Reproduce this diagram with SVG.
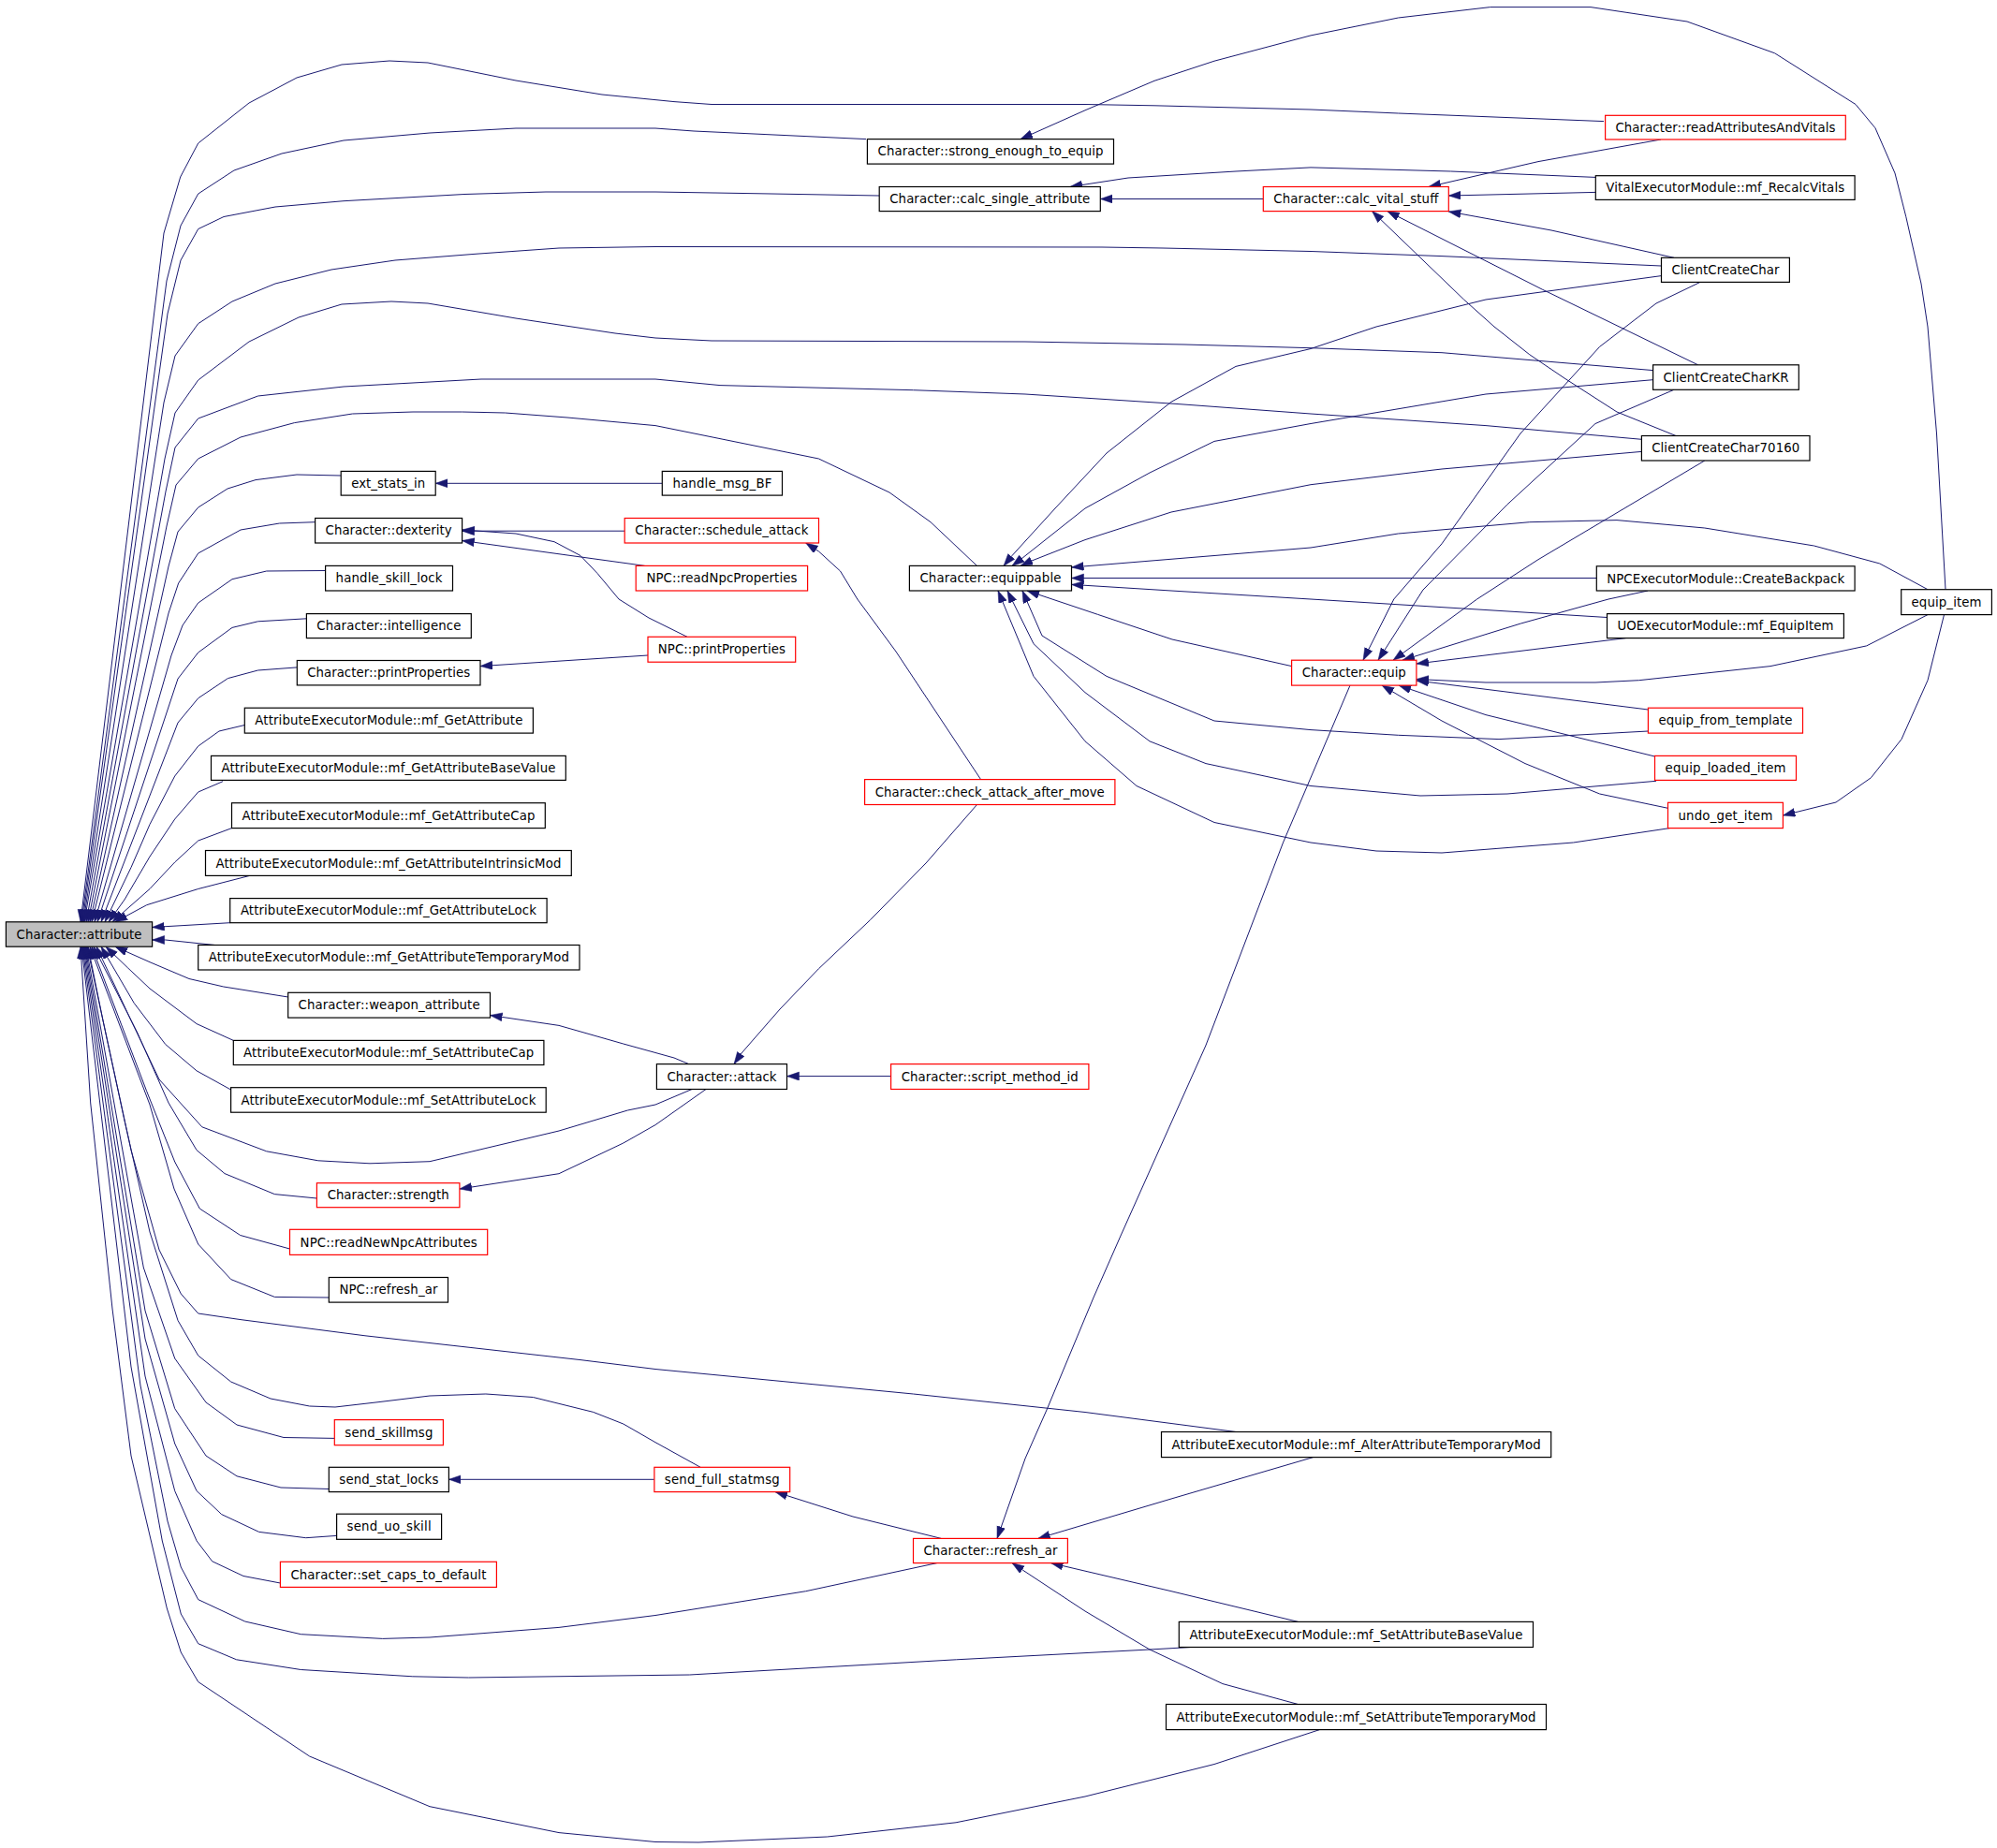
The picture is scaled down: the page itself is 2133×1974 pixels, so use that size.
<svg xmlns="http://www.w3.org/2000/svg" width="2133" height="1974" viewBox="0 0 2133 1974">
<style>
.n rect{fill:#fff;stroke:#000;stroke-width:1.2}
.r rect{fill:#fff;stroke:#f00;stroke-width:1.2}
.g rect{fill:#bfbfbf;stroke:#000;stroke-width:1.2}
text{font-family:"DejaVu Sans","Liberation Sans",sans-serif;font-size:13.3px;text-anchor:middle;fill:#000}
.e path{fill:none;stroke:#191970;stroke-width:1;stroke-linejoin:round;marker-end:url(#a)}
</style>
<defs>
<marker id="a" markerUnits="userSpaceOnUse" markerWidth="14" markerHeight="10" refX="13" refY="4.5" orient="auto">
<path d="M0,0 L13,4.5 L0,9 z" fill="#191970" stroke="#191970" stroke-width="0.5"/>
</marker>
</defs>
<rect width="2133" height="1974" fill="#fff"/>
<g class="e" id="edges">
<path d="M1713,129.6 L1493.5,121 L1400,117 L1233,112.8 L1159,111.5 L760,111.5 L720,108.6 L643,101 L551,86 L457,67 L416,65 L365,69 L317,83 L266,110 L211.7,153 L192.7,189 L175,249 L86,984.8"/>
<path d="M925,148.6 L741,140 L700,137 L551,137 L459,142 L367,150 L301,164 L250,182 L211.7,207 L193,241 L178,300 L87,984.8"/>
<path d="M939,209 L824,207 L700,205 L583,205 L496,207.5 L367,214.7 L294,221 L239,231.5 L211.7,244.6 L193,278 L179,335 L88,984.8"/>
<path d="M1774,284 L1540,273.6 L1400,268.5 L1242,265 L1177,264 L700,263.5 L597,265 L505,271.5 L422,278 L354,288 L294,303 L248,322 L211.7,345.7 L187,380 L175,430 L89,984.8"/>
<path d="M1765.6,395.6 L1540,376.7 L1400,371.7 L1265,368 L1095,365 L760,364 L700,361 L657,356 L551,340 L457,324 L418,322 L365,325 L319,339 L266,365 L211.7,406 L187,441 L176,490 L90,984.8"/>
<path d="M1753.4,469.3 L1587,454.6 L1400,442 L1256,431.4 L1095,421 L975.5,416.7 L769,411.6 L700,405 L514,405 L459,408 L367,413 L275.5,423 L211.7,447 L187,478 L177,525 L92,984.8"/>
<path d="M1043.5,604.4 L994,557.7 L950,526 L874.5,490 L700,454.6 L606,446 L539.6,441 L493.6,440 L441,440 L376.5,442 L314.5,451.6 L257,467 L211.7,490 L188,518 L178,562 L94,984.8"/>
<path d="M364.2,508 L317,507 L273,512.6 L243,522 L211.7,542 L190,568 L180,605 L96,984.8"/>
<path d="M336.6,557.7 L298.5,559 L257,566 L211.7,591 L190.6,623 L180,655 L98,984.8"/>
<path d="M347.6,609.5 L284.7,610 L248,618.7 L211.7,644 L195,668 L183,700 L101,984.8"/>
<path d="M327.4,660.8 L275.5,663.8 L248,670.4 L211.7,697 L190,725 L104,984.8"/>
<path d="M317.3,712.9 L275.5,716 L243.4,724.6 L211.7,745.8 L190,772 L108,984.8"/>
<path d="M261.3,774.5 L234,781 L211.7,797 L186.7,829 L160,880.6 L140,926.6 L112,984.8"/>
<path d="M238,834.7 L211.7,846 L186.7,875 L160,915 L133,961 L116,984.8"/>
<path d="M247.5,884.6 L211.7,898 L186.7,921 L160,949.5 L120,984.8"/>
<path d="M266.7,935.4 L211.7,949.5 L156.7,966.7 L123,984.8"/>
<path d="M245.7,985.7 L162.6,990.5"/>
<path d="M229.6,1009.5 L176.7,1004 L162.6,1004"/>
<path d="M307.7,1065 L238.8,1054 L202,1045.5 L160,1027.7 L123,1011.2"/>
<path d="M249.3,1111.4 L210,1093.6 L160,1056 L136.7,1034 L113,1011.2"/>
<path d="M246.6,1164 L210,1143.8 L176.7,1115.5 L143.3,1071.6 L108,1011.2"/>
<path d="M739,1163.5 L700,1180 L670.4,1186 L597,1208 L459,1240.7 L395,1242.8 L339.8,1239.8 L284.7,1229.8 L215.8,1203.8 L170,1153 L140,1090 L103,1011.2"/>
<path d="M338.4,1280 L293.3,1275.6 L240,1253.6 L210,1228.5 L180,1178 L146.7,1103 L100,1011.2"/>
<path d="M309.5,1334 L256.7,1319.5 L213.3,1291 L186.7,1241 L156.7,1165.7 L98,1011.2"/>
<path d="M351.3,1386 L293.3,1385.4 L246.7,1366.6 L211.7,1329 L186,1270 L160,1180 L96,1011.2"/>
<path d="M1320,1529.5 L1159,1508.5 L975.5,1489 L700,1462.5 L620,1452.6 L505,1439.7 L390,1426.8 L257,1409.6 L211.7,1403 L193.3,1382 L170,1335 L140,1228.5 L110,1090 L94,1011.2"/>
<path d="M748.2,1567.3 L700,1540.7 L665.8,1521 L633.7,1508.4 L569.4,1492.5 L518.9,1489 L459,1491 L404,1497.7 L358,1503 L330.6,1502 L289,1494 L246.7,1476 L211.7,1448 L190,1410.5 L160,1316 L133,1197 L93,1011.2"/>
<path d="M357.3,1536.4 L303,1535.5 L253,1522 L220,1498 L186.7,1451 L153.3,1354 L92,1011.2"/>
<path d="M351.3,1590.5 L300,1589 L253,1576.8 L220,1555 L186.7,1504.6 L155,1400 L91,1011.2"/>
<path d="M359.6,1640.4 L326.7,1642.7 L276.7,1636.4 L236.7,1617.6 L210,1592.5 L186.7,1542 L155,1430 L90,1011.2"/>
<path d="M299.4,1691 L260,1683.5 L226.7,1667.8 L210,1645.8 L186.7,1592.5 L155,1470 L89,1011.2"/>
<path d="M1000.8,1669.6 L860.7,1699.7 L700,1725.5 L597,1738.4 L459,1749 L408.7,1750.4 L321.4,1745.7 L261.7,1732 L211.7,1708.6 L193.3,1674 L179,1625 L150,1480 L88,1011.2"/>
<path d="M1271.7,1759.5 L1228,1762 L1021.4,1772.8 L736.7,1789 L592,1790.8 L500.5,1792 L440.8,1790.8 L321.4,1783.5 L252.6,1772.8 L211.7,1755.7 L193.3,1724 L173.3,1646 L140,1460 L87,1011.2"/>
<path d="M1409.5,1847.6 L1297,1884.5 L1159,1919 L1021,1946.8 L883.7,1962 L746,1968 L700,1967.5 L597,1957.6 L459,1929.7 L330.6,1876 L211.7,1796.5 L193.3,1765 L178.3,1718 L140,1555 L120,1398 L96.7,1178 L86,1011.2"/>
<path d="M707.3,516.3 L465.2,516.3"/>
<path d="M667.2,567.2 L493.6,567.2"/>
<path d="M688.7,604.4 L493.6,577.5"/>
<path d="M734,680.3 L693,660 L661,640 L638,612.4 L620,593.5 L592,578.7 L551,570 L493.6,566"/>
<path d="M692,700 L513,711.6"/>
<path d="M1047.6,832.6 L1012,779 L957,696 L915.8,640 L897.5,610 L874.5,589 L860.7,580"/>
<path d="M1043.5,859.5 L989,922 L929.6,982.6 L874.5,1034.7 L833,1078 L792,1125 L784,1136.6"/>
<path d="M951.6,1149.6 L840.5,1149.6"/>
<path d="M735.8,1136.6 L720,1130 L665.8,1115 L597,1095.4 L523.5,1084.5"/>
<path d="M754,1163.5 L700,1201.6 L665.8,1221 L597,1253.7 L490.9,1270"/>
<path d="M2078,629.7 L2068.5,463 L2059,349 L2052,303 L2035.8,231.5 L2024,185 L2003,136.8 L1982,111.5 L1895.6,56.8 L1802,23 L1699,7.6 L1591.7,7.6 L1493.5,19 L1400,37.9 L1297,65.2 L1233,86.3 L1159,117.8 L1090,148.6"/>
<path d="M1349.3,212.5 L1175.3,212.5"/>
<path d="M1704,189.4 L1549.6,183 L1400,178.9 L1320,183 L1205,190 L1143,199.5"/>
<path d="M1774,149 L1643,172.6 L1526,199.5"/>
<path d="M1704.3,205.4 L1547.3,209"/>
<path d="M1788,275.3 L1657,246 L1547.3,226"/>
<path d="M1813.7,389.8 L1647.8,309.4 L1481.8,225.6"/>
<path d="M1790,465.5 L1727,440 L1671,404 L1633.8,378.8 L1596,349 L1563.6,320 L1465.5,225.6"/>
<path d="M1774.5,294.6 L1587,320 L1470,349 L1400,372.5 L1320,391.4 L1251,429.3 L1182,484 L1127,543 L1081,593.5 L1072,604.4"/>
<path d="M1765.6,405.7 L1587,421 L1400,452.5 L1297,471.4 L1228,505 L1159,543 L1090,597.7 L1081,604.4"/>
<path d="M1753.4,482.4 L1540,501 L1400,517.7 L1251,547 L1159,576.6 L1100,599.8 L1090,604.4"/>
<path d="M2059,629.7 L2007.8,602 L1937.6,583 L1820.8,564 L1727,555.6 L1633.8,557.7 L1493.5,570 L1400,585 L1297,593.5 L1144.5,606"/>
<path d="M1705.3,617.5 L1144.5,617.5"/>
<path d="M1716.5,659.5 L1400,640 L1251,631 L1144.5,624.4"/>
<path d="M1379.6,711.6 L1252,683 L1172.6,656.4 L1097,631"/>
<path d="M1760.4,781 L1601,789.6 L1493.5,785.3 L1400,779.6 L1297,770 L1182,722.4 L1113,679 L1092,631"/>
<path d="M1769,834.3 L1610,848 L1517,850 L1400,839.5 L1288,815.6 L1228,791.8 L1159,739.7 L1104,687.7 L1076,631"/>
<path d="M1783.4,884.6 L1680.5,900 L1540,911 L1470,909 L1400,900 L1297,878.5 L1214,839.5 L1159,791.8 L1104,722.4 L1066,631"/>
<path d="M1816,301.4 L1769,324 L1708.6,370.4 L1624,463 L1540,580.8 L1488.8,640 L1456,705.2"/>
<path d="M1788,416.3 L1704,452.5 L1610,538.8 L1520,630 L1472,705.2"/>
<path d="M1820.8,492 L1643,597.7 L1577.6,640 L1488,705.2"/>
<path d="M1760,631 L1718,640 L1624.4,666 L1498,705.2"/>
<path d="M1736.6,681.6 L1512.9,709"/>
<path d="M2059,656.6 L1993.7,689.9 L1891,711.6 L1750.6,726.7 L1704,729 L1587,729 L1512.9,725.5"/>
<path d="M1760.4,758 L1512.9,727"/>
<path d="M1767.5,808 L1587,763.6 L1494,732.1"/>
<path d="M1781.5,863.3 L1708.6,848 L1629,815.6 L1540,770 L1476,732.1"/>
<path d="M2076.5,656.6 L2059,726.7 L2031,789.6 L1998.4,830.8 L1961,857 L1904.4,871"/>
<path d="M1442,732.1 L1370.5,900 L1287.8,1117 L1197,1320 L1168,1386 L1118,1506 L1095,1558 L1065,1643.4"/>
<path d="M1005.4,1643.4 L911,1620 L828,1593.6"/>
<path d="M698.9,1580.3 L479.4,1580.3"/>
<path d="M1402.6,1556.6 L1251,1601 L1108.7,1643.4"/>
<path d="M1386.5,1732.4 L1251,1699.7 L1122.5,1669.6"/>
<path d="M1386.5,1820.5 L1306,1798.6 L1228,1762 L1159,1721 L1081,1669.6"/>
</g>
<g id="n_attribute" class="g"><rect x="6.4" y="984.8" width="156.2" height="26.4"/><text x="84.5" y="1002.6" textLength="134" lengthAdjust="spacing">Character::attribute</text></g>
<g id="n_strong_enough_to_equip" class="n"><rect x="926.4" y="148.6" width="263.1" height="26.5"/><text x="1058" y="166.4" textLength="241" lengthAdjust="spacing">Character::strong_enough_to_equip</text></g>
<g id="n_calc_single_attribute" class="n"><rect x="939.2" y="199.5" width="236.1" height="26.1"/><text x="1057.25" y="217.2" textLength="214" lengthAdjust="spacing">Character::calc_single_attribute</text></g>
<g id="n_readAttributesAndVitals" class="r"><rect x="1714.6" y="123.3" width="256.7" height="25.7"/><text x="1842.95" y="140.8" textLength="235" lengthAdjust="spacing">Character::readAttributesAndVitals</text></g>
<g id="n_mf_RecalcVitals" class="n"><rect x="1704.3" y="187.7" width="276.8" height="25.7"/><text x="1842.7" y="205.2" textLength="255" lengthAdjust="spacing">VitalExecutorModule::mf_RecalcVitals</text></g>
<g id="n_calc_vital_stuff" class="r"><rect x="1349.3" y="199.5" width="198" height="26.1"/><text x="1448.3" y="217.2" textLength="176" lengthAdjust="spacing">Character::calc_vital_stuff</text></g>
<g id="n_ClientCreateChar" class="n"><rect x="1774.5" y="275.3" width="136.9" height="26.1"/><text x="1842.95" y="293" textLength="115" lengthAdjust="spacing">ClientCreateChar</text></g>
<g id="n_ClientCreateCharKR" class="n"><rect x="1765.6" y="389.8" width="155.7" height="26.5"/><text x="1843.45" y="407.7" textLength="134" lengthAdjust="spacing">ClientCreateCharKR</text></g>
<g id="n_ClientCreateChar70160" class="n"><rect x="1753.4" y="465.5" width="179.6" height="26.5"/><text x="1843.2" y="483.4" textLength="158" lengthAdjust="spacing">ClientCreateChar70160</text></g>
<g id="n_ext_stats_in" class="n"><rect x="364.2" y="503.4" width="101" height="25.7"/><text x="414.7" y="520.9" textLength="79" lengthAdjust="spacing">ext_stats_in</text></g>
<g id="n_handle_msg_BF" class="n"><rect x="707.3" y="503.4" width="128.2" height="25.7"/><text x="771.4" y="520.9" textLength="106" lengthAdjust="spacing">handle_msg_BF</text></g>
<g id="n_dexterity" class="n"><rect x="336.6" y="553.5" width="157" height="26.5"/><text x="415.1" y="571.4" textLength="135" lengthAdjust="spacing">Character::dexterity</text></g>
<g id="n_schedule_attack" class="r"><rect x="667.2" y="553.5" width="207.3" height="26.5"/><text x="770.85" y="571.4" textLength="185" lengthAdjust="spacing">Character::schedule_attack</text></g>
<g id="n_handle_skill_lock" class="n"><rect x="347.6" y="604.4" width="135.9" height="26.6"/><text x="415.55" y="622.3" textLength="114" lengthAdjust="spacing">handle_skill_lock</text></g>
<g id="n_readNpcProperties" class="r"><rect x="679.2" y="604.4" width="183.4" height="26.6"/><text x="770.9" y="622.3" textLength="161" lengthAdjust="spacing">NPC::readNpcProperties</text></g>
<g id="n_equippable" class="n"><rect x="971.4" y="604.4" width="173.1" height="26.6"/><text x="1057.95" y="622.3" textLength="151" lengthAdjust="spacing">Character::equippable</text></g>
<g id="n_CreateBackpack" class="n"><rect x="1705.3" y="604.8" width="275.8" height="26.2"/><text x="1843.2" y="622.5" textLength="254" lengthAdjust="spacing">NPCExecutorModule::CreateBackpack</text></g>
<g id="n_equip_item" class="n"><rect x="2030.7" y="629.7" width="96.7" height="26.9"/><text x="2079.05" y="647.8" textLength="75" lengthAdjust="spacing">equip_item</text></g>
<g id="n_intelligence" class="n"><rect x="327.4" y="655.6" width="175.9" height="26"/><text x="415.35" y="673.2" textLength="154" lengthAdjust="spacing">Character::intelligence</text></g>
<g id="n_mf_EquipItem" class="n"><rect x="1716.5" y="655.6" width="252.9" height="26"/><text x="1842.95" y="673.2" textLength="231" lengthAdjust="spacing">UOExecutorModule::mf_EquipItem</text></g>
<g id="n_NPC_printProperties" class="r"><rect x="692" y="680.3" width="157.7" height="26.9"/><text x="770.85" y="698.4" textLength="136" lengthAdjust="spacing">NPC::printProperties</text></g>
<g id="n_printProperties" class="n"><rect x="317.3" y="705.5" width="195.7" height="26.4"/><text x="415.15" y="723.3" textLength="174" lengthAdjust="spacing">Character::printProperties</text></g>
<g id="n_equip" class="r"><rect x="1379.6" y="705.2" width="133.3" height="26.9"/><text x="1446.25" y="723.3" textLength="111" lengthAdjust="spacing">Character::equip</text></g>
<g id="n_mf_GetAttribute" class="n"><rect x="261.3" y="756.2" width="308.1" height="26.9"/><text x="415.35" y="774.3" textLength="286" lengthAdjust="spacing">AttributeExecutorModule::mf_GetAttribute</text></g>
<g id="n_equip_from_template" class="r"><rect x="1760.4" y="756.2" width="165.1" height="26.9"/><text x="1842.95" y="774.3" textLength="143" lengthAdjust="spacing">equip_from_template</text></g>
<g id="n_mf_GetAttributeBaseValue" class="n"><rect x="225.5" y="807.4" width="378.8" height="26"/><text x="414.9" y="825" textLength="357" lengthAdjust="spacing">AttributeExecutorModule::mf_GetAttributeBaseValue</text></g>
<g id="n_equip_loaded_item" class="r"><rect x="1767.5" y="807.4" width="151" height="26"/><text x="1843" y="825" textLength="129" lengthAdjust="spacing">equip_loaded_item</text></g>
<g id="n_check_attack_after_move" class="r"><rect x="923.6" y="832.6" width="267.3" height="26.9"/><text x="1057.25" y="850.7" textLength="245" lengthAdjust="spacing">Character::check_attack_after_move</text></g>
<g id="n_mf_GetAttributeCap" class="n"><rect x="247.5" y="857.7" width="334.8" height="26.9"/><text x="414.9" y="875.8" textLength="313" lengthAdjust="spacing">AttributeExecutorModule::mf_GetAttributeCap</text></g>
<g id="n_undo_get_item" class="r"><rect x="1781.5" y="857.3" width="122.9" height="27.3"/><text x="1842.95" y="875.6" textLength="101" lengthAdjust="spacing">undo_get_item</text></g>
<g id="n_mf_GetAttributeIntrinsicMod" class="n"><rect x="219.5" y="908.5" width="390.8" height="26.9"/><text x="414.9" y="926.6" textLength="369" lengthAdjust="spacing">AttributeExecutorModule::mf_GetAttributeIntrinsicMod</text></g>
<g id="n_mf_GetAttributeLock" class="n"><rect x="245.7" y="959.6" width="338.4" height="26.1"/><text x="414.9" y="977.3" textLength="316" lengthAdjust="spacing">AttributeExecutorModule::mf_GetAttributeLock</text></g>
<g id="n_mf_GetAttributeTemporaryMod" class="n"><rect x="211.7" y="1009.5" width="407.3" height="26.5"/><text x="415.35" y="1027.4" textLength="385" lengthAdjust="spacing">AttributeExecutorModule::mf_GetAttributeTemporaryMod</text></g>
<g id="n_weapon_attribute" class="n"><rect x="307.7" y="1060.3" width="215.8" height="26.8"/><text x="415.6" y="1078.3" textLength="194" lengthAdjust="spacing">Character::weapon_attribute</text></g>
<g id="n_mf_SetAttributeCap" class="n"><rect x="249.3" y="1111.4" width="331.6" height="26.1"/><text x="415.1" y="1129.1" textLength="310" lengthAdjust="spacing">AttributeExecutorModule::mf_SetAttributeCap</text></g>
<g id="n_attack" class="n"><rect x="701.4" y="1136.6" width="139.1" height="26.9"/><text x="770.95" y="1154.7" textLength="117" lengthAdjust="spacing">Character::attack</text></g>
<g id="n_script_method_id" class="r"><rect x="951.6" y="1136.6" width="211.3" height="26.9"/><text x="1057.25" y="1154.7" textLength="189" lengthAdjust="spacing">Character::script_method_id</text></g>
<g id="n_mf_SetAttributeLock" class="n"><rect x="246.6" y="1161.7" width="336.6" height="26.5"/><text x="414.9" y="1179.6" textLength="315" lengthAdjust="spacing">AttributeExecutorModule::mf_SetAttributeLock</text></g>
<g id="n_strength" class="r"><rect x="338.4" y="1263.7" width="152.5" height="26"/><text x="414.65" y="1281.3" textLength="130" lengthAdjust="spacing">Character::strength</text></g>
<g id="n_readNewNpcAttributes" class="r"><rect x="309.5" y="1313.3" width="211.2" height="27.1"/><text x="415.1" y="1331.5" textLength="189" lengthAdjust="spacing">NPC::readNewNpcAttributes</text></g>
<g id="n_NPC_refresh_ar" class="n"><rect x="351.3" y="1364.5" width="127.2" height="26.6"/><text x="414.9" y="1382.4" textLength="105" lengthAdjust="spacing">NPC::refresh_ar</text></g>
<g id="n_send_skillmsg" class="r"><rect x="357.3" y="1516.6" width="116.1" height="27.1"/><text x="415.35" y="1534.8" textLength="94" lengthAdjust="spacing">send_skillmsg</text></g>
<g id="n_mf_AlterAttributeTemporaryMod" class="n"><rect x="1240.5" y="1529.5" width="416.2" height="27.1"/><text x="1448.6" y="1547.7" textLength="394" lengthAdjust="spacing">AttributeExecutorModule::mf_AlterAttributeTemporaryMod</text></g>
<g id="n_send_stat_locks" class="n"><rect x="351.3" y="1567.3" width="128.1" height="26.3"/><text x="415.35" y="1585.1" textLength="106" lengthAdjust="spacing">send_stat_locks</text></g>
<g id="n_send_full_statmsg" class="r"><rect x="698.9" y="1567.3" width="144.8" height="26.3"/><text x="771.3" y="1585.1" textLength="123" lengthAdjust="spacing">send_full_statmsg</text></g>
<g id="n_send_uo_skill" class="n"><rect x="359.6" y="1617.2" width="112" height="27.1"/><text x="415.6" y="1635.4" textLength="90" lengthAdjust="spacing">send_uo_skill</text></g>
<g id="n_refresh_ar" class="r"><rect x="975.5" y="1643.4" width="164.9" height="26.2"/><text x="1057.95" y="1661.1" textLength="143" lengthAdjust="spacing">Character::refresh_ar</text></g>
<g id="n_set_caps_to_default" class="r"><rect x="299.4" y="1668.3" width="231" height="27.1"/><text x="414.9" y="1686.5" textLength="209" lengthAdjust="spacing">Character::set_caps_to_default</text></g>
<g id="n_mf_SetAttributeBaseValue" class="n"><rect x="1259.3" y="1732.4" width="378.2" height="27.1"/><text x="1448.4" y="1750.6" textLength="356" lengthAdjust="spacing">AttributeExecutorModule::mf_SetAttributeBaseValue</text></g>
<g id="n_mf_SetAttributeTemporaryMod" class="n"><rect x="1245.5" y="1820.5" width="406" height="27.1"/><text x="1448.5" y="1838.7" textLength="384" lengthAdjust="spacing">AttributeExecutorModule::mf_SetAttributeTemporaryMod</text></g>
</svg>
